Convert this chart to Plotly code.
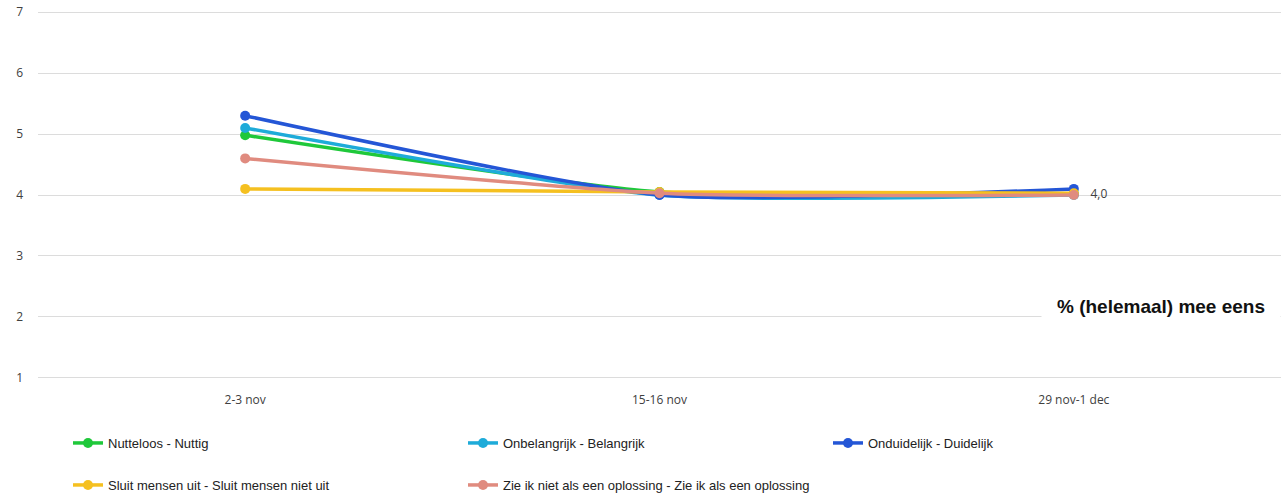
import plotly.graph_objects as go

categories = ["2-3 nov", "15-16 nov", "29 nov-1 dec"]
series_names = [
    "Nutteloos - Nuttig",
    "Onbelangrijk - Belangrijk",
    "Onduidelijk - Duidelijk",
    "Sluit mensen uit - Sluit mensen niet uit",
    "Zie ik niet als een oplossing - Zie ik als een oplossing",
]
nutteloos = [4.98, 4.05, 4.02]
onbelangrijk = [5.1, 4.0, 4.0]
onduidelijk = [5.3, 4.0, 4.1]
sluit = [4.1, 4.05, 4.03]
zie_ik = [4.6, 4.03, 4.0]
last_label = ["", "", "4,0"]
y_ticks = [1, 2, 3, 4, 5, 6, 7]
title_text = "% (helemaal) mee eens"

colors = ["#1fc83a", "#1eabd9", "#2456d6", "#f5c020", "#e08b7f"]
values = [nutteloos, onbelangrijk, onduidelijk, sluit, zie_ik]

W, H = 1281, 500
ml, mr, mt, mb = 38, 0, 9, 119
pw, ph = W - ml - mr, H - mt - mb
leg_px = [(68, 443), (463, 443), (828, 443), (68, 485), (463, 485)]

fig = go.Figure()
for i, (name, vals, col) in enumerate(zip(series_names, values, colors)):
    lname = "legend" if i == 0 else f"legend{i+1}"
    mode = "lines+markers"
    extra = {}
    if i == 4:
        mode = "lines+markers+text"
        extra = dict(text=last_label, texttemplate="   %{text}", textposition="middle right",
                     textfont=dict(family="Open Sans, sans-serif", size=12, color="#404040"))
    fig.add_trace(go.Scatter(
        x=categories, y=vals, name=name, mode=mode,
        line=dict(color=col, width=3.5, shape="spline", smoothing=0.6),
        marker=dict(color=col, size=10),
        legend=lname, cliponaxis=False, **extra))

layout_legends = {}
for i, (px, py) in enumerate(leg_px):
    lname = "legend" if i == 0 else f"legend{i+1}"
    layout_legends[lname] = dict(
        x=(px - ml) / pw, y=(H - mb - py) / ph, xanchor="left", yanchor="middle",
        orientation="h", bgcolor="rgba(0,0,0,0)",
        font=dict(family="Liberation Sans Narrow, Arial Narrow, sans-serif", size=13, color="#222222"),
        itemwidth=30,
    )

fig.update_layout(
    width=W, height=H,
    margin=dict(l=ml, r=mr, t=mt, b=mb, autoexpand=False),
    plot_bgcolor="white", paper_bgcolor="white",
    showlegend=True,
    xaxis=dict(range=[-0.5, 2.5], showgrid=False, showline=False, zeroline=False,
               ticks="", ticklabelstandoff=10,
               tickfont=dict(family="Open Sans, sans-serif", size=12, color="#404040")),
    yaxis=dict(range=[0.95, 7.05], tickvals=y_ticks, showgrid=True, gridcolor="#dcdcdc", gridwidth=1,
               zeroline=False, showline=False, ticks="", ticklabelstandoff=14,
               ticklabeloverflow="allow",
               tickfont=dict(family="Open Sans, sans-serif", size=12, color="#404040")),
    annotations=[dict(
        text="<b>" + title_text + "</b>", xref="paper", yref="y", x=1.0, y=2.0,
        xanchor="right", yanchor="middle", yshift=10, showarrow=False,
        width=230, align="center",
        bgcolor="white", borderpad=4,
        font=dict(family="Liberation Sans, Arial, sans-serif", size=19, color="#111111"),
    )],
    **layout_legends,
)

fig.write_html("out.html",
               config={"displayModeBar": False},
               post_script="document.body.style.margin='0';document.body.style.padding='0';")
